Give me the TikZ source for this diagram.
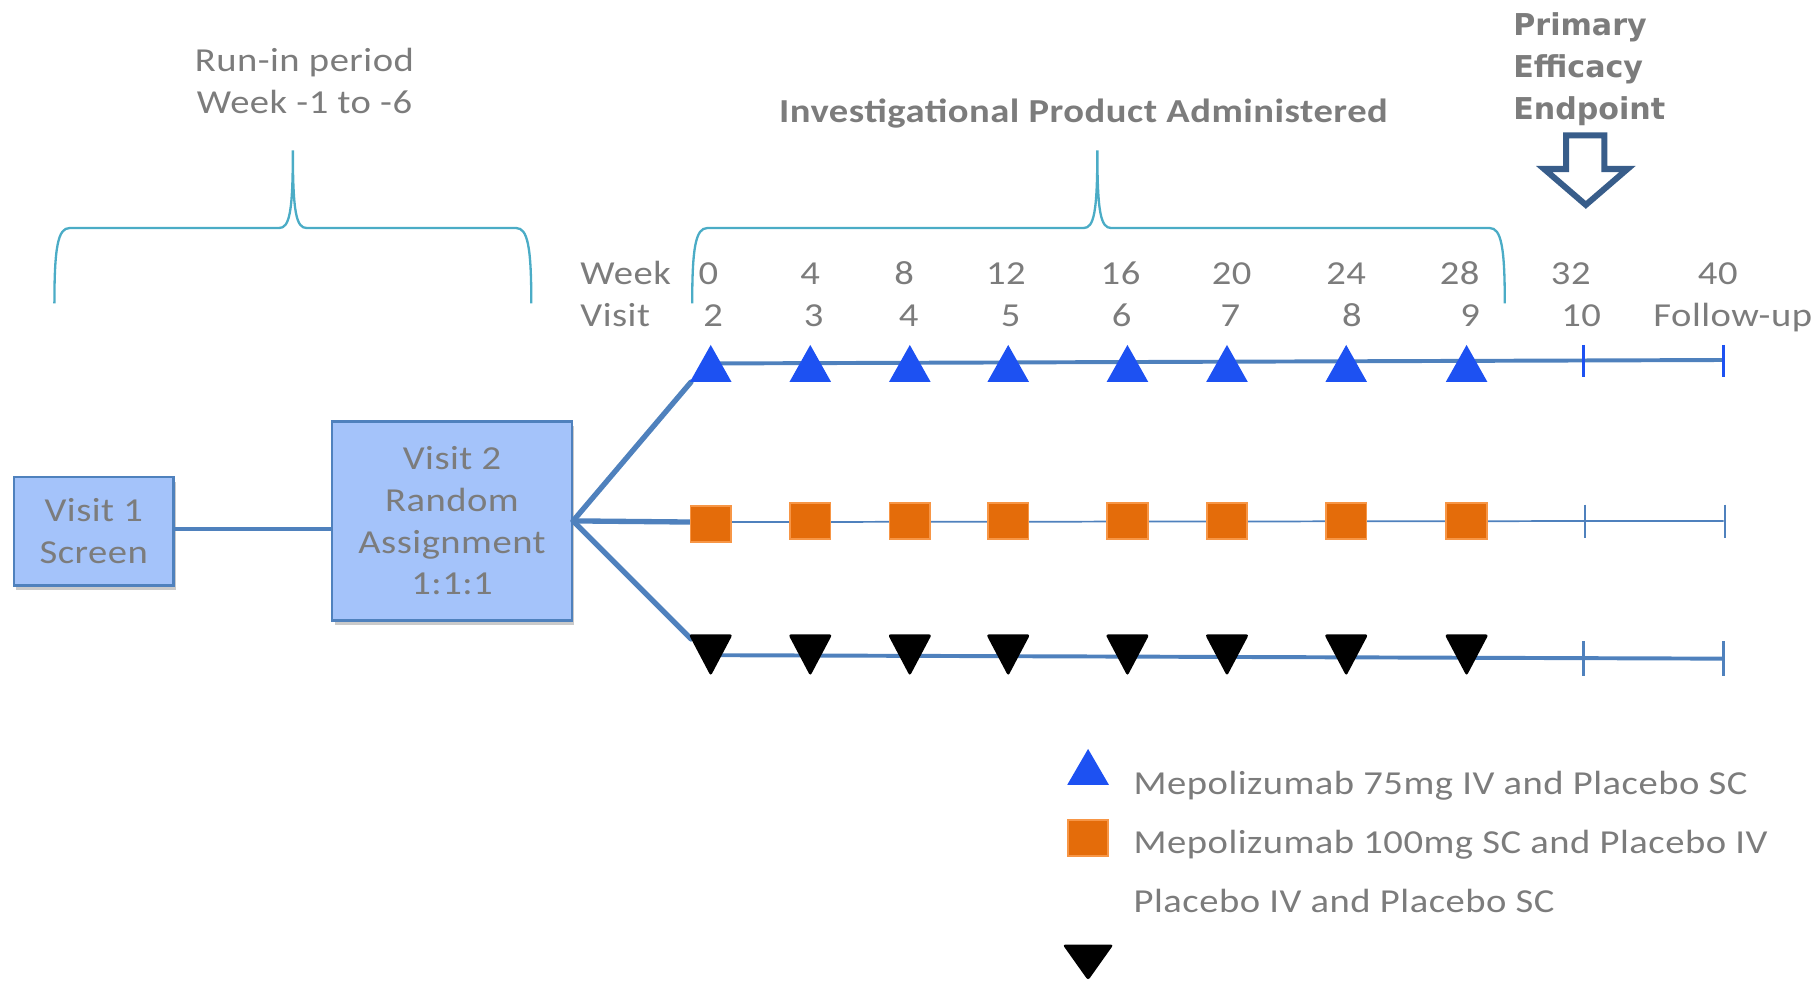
\documentclass[tikz,border=0pt]{standalone}
\usepackage{fontspec}
\setmainfont{Carlito}[FakeStretch=1.15, LetterSpace=1.5]
\newfontfamily\vfont{DejaVu Sans}
\usetikzlibrary{shadows}
\definecolor{txtgray}{RGB}{124,124,124}
\definecolor{bracecol}{RGB}{75,172,198}
\definecolor{linecol}{RGB}{79,129,189}
\definecolor{boxfill}{RGB}{164,195,250}
\definecolor{triblue}{RGB}{29,81,242}
\definecolor{sqorange}{RGB}{228,108,10}
\definecolor{sqborder}{RGB}{247,150,70}
\definecolor{arrowcol}{RGB}{56,93,138}
\tikzset{
  lbl/.style={text=txtgray, inner sep=0pt, anchor=base},
  lbll/.style={text=txtgray, inner sep=0pt, anchor=base west},
  vbox/.style={draw=linecol, line width=1.1pt, fill=boxfill, text=txtgray, align=center, inner sep=0pt,
    drop shadow={opacity=0.35, shadow xshift=1pt, shadow yshift=-2pt, fill=black!60}},
  brace/.style={draw=bracecol, line width=1pt},
  conn/.style={draw=linecol, line width=1.6pt},
  diag/.style={draw=linecol, line width=2.3pt},
  thickline/.style={draw=linecol, line width=1.7pt},
  thinline/.style={draw=linecol, line width=0.75pt},
  bluetick/.style={draw=triblue, line width=1.6pt},
  steeltick/.style={draw=linecol, line width=1.6pt},
  thintick/.style={draw=linecol, line width=0.9pt},
  uptri/.style={fill=triblue},
  downtri/.style={fill=black, rounded corners=1.2pt},
  sqmark/.style={fill=sqorange, draw=sqborder, line width=0.8pt},
}
\begin{document}
\begin{tikzpicture}[x=0.5pt,y=-0.5pt, font=\fontsize{14.5}{18}\selectfont]
\useasboundingbox (0,0) rectangle (1568,847);

% top labels
\node[lbl] (runin1) at (263,62) {Run-in period};
\node[lbl] (runin2) at (263,98) {Week -1 to -6};
\node[lbl, font=\fontsize{14.5}{18}\selectfont\bfseries] (ipa) at (936,106) {Investigational Product Administered};
\node[lbll, font=\vfont\bfseries\fontsize{13}{18}\selectfont] (pe1) at (1307,31) {Primary};
\node[lbll, font=\vfont\bfseries\fontsize{13}{18}\selectfont] (pe2) at (1307,67) {Efficacy};
\node[lbll, font=\vfont\bfseries\fontsize{13}{18}\selectfont] (pe3) at (1307,103) {Endpoint};

% block arrow
\draw[draw=arrowcol, fill=white, line width=2.6pt, line join=miter]
  (1353,117) -- (1386,117) -- (1386,146) -- (1406,146) -- (1370,177) -- (1334,146) -- (1353,146) -- cycle;

% braces
\draw[brace] (47,262) .. controls (47,214) and (50,197) .. (60,197) -- (241,197)
  .. controls (250,197) and (253,184) .. (253,130)
  .. controls (253,184) and (256,197) .. (265,197) -- (446,197)
  .. controls (456,197) and (459,214) .. (459,262);
\draw[brace] (598,262) .. controls (598,214) and (601,197) .. (611,197) -- (936,197)
  .. controls (945,197) and (948,184) .. (948,130)
  .. controls (948,184) and (951,197) .. (960,197) -- (1287,197)
  .. controls (1297,197) and (1300,214) .. (1300,262);

% week / visit labels
\node[lbll] (weeklbl) at (501,246) {Week};
\node[lbll] (visitlbl) at (501,282) {Visit};
\foreach \x/\t [count=\i] in {612/0,700/4,781/8,869/12,968/16,1064/20,1163/24,1261/28,1357/32,1484/40}
  \node[lbl] (wk\i) at (\x,246) {\t};
\foreach \x/\t [count=\i] in {616/2,703/3,785/4,873/5,969/6,1063/7,1168/8,1270/9,1366/10,1497/Follow-up}
  \node[lbl] (vs\i) at (\x,282) {\t};

% boxes
\node[vbox, minimum width=69pt, minimum height=47pt] (v1) at (81,459) {Visit 1\\Screen};
\node[vbox, minimum width=103.5pt, minimum height=86pt] (v2) at (390.5,450) {Visit 2\\Random\\Assignment\\1:1:1};
\draw[conn] ([yshift=1pt]v1.east) -- ([yshift=1pt]v1.east -| v2.west);

% arm coordinates
\coordinate (hub) at (v2.east);
\coordinate (topstart) at (597,330);
\coordinate (midstart) at (598,451);
\coordinate (botstart) at (597,552);
\coordinate (topA) at (612,314);
\coordinate (topB) at (1489,311);
\coordinate (midA) at (614,451);
\coordinate (midB) at (1489,450);
\coordinate (botA) at (612,566);
\coordinate (botB) at (1489,569);

\draw[diag, line cap=round] (hub) -- (topstart);
\draw[diag] (hub) -- (midstart);
\draw[diag, line cap=round] (hub) -- (botstart);
\draw[thickline] (topA) -- (topB);
\draw[thinline] (midA) -- (midB);
\draw[thickline] (botA) -- (botB);

% ticks
\draw[bluetick] (1368,298) -- (1368,326);
\draw[bluetick] (1489,298) -- (1489,326);
\draw[thintick] (1369,436) -- (1369,465);
\draw[thintick] (1490,436) -- (1490,465);
\draw[steeltick] (1368,554) -- (1368,584);
\draw[steeltick] (1489,554) -- (1489,584);

% markers
\foreach \x in {614,700,786,871,974,1060,1163,1267}
  \fill[uptri] (\x,298) -- ++(18,32) -- ++(-36,0) -- cycle;
\foreach \x in {700,786,871,974,1060,1163,1267}
  \draw[sqmark] (\x-17.5,434.5) rectangle ++(35,31);
\draw[sqmark] (596.5,437) rectangle ++(35,31);
\foreach \x in {614,700,786,871,974,1060,1163,1267}
  \fill[downtri] (\x-19,548) -- ++(38,0) -- ++(-19,36) -- cycle;

% legend
\fill[uptri] (940,647) -- ++(18,31) -- ++(-36,0) -- cycle;
\draw[sqmark] (922.5,708.5) rectangle ++(35,31);
\fill[downtri] (918,816) -- ++(44,0) -- ++(-22,31) -- cycle;
\node[lbll] (leg1) at (979,686) {Mepolizumab 75mg IV and Placebo SC};
\node[lbll] (leg2) at (979,737) {Mepolizumab 100mg SC and Placebo IV};
\node[lbll] (leg3) at (979,788) {Placebo IV and Placebo SC};
\end{tikzpicture}
\end{document}
